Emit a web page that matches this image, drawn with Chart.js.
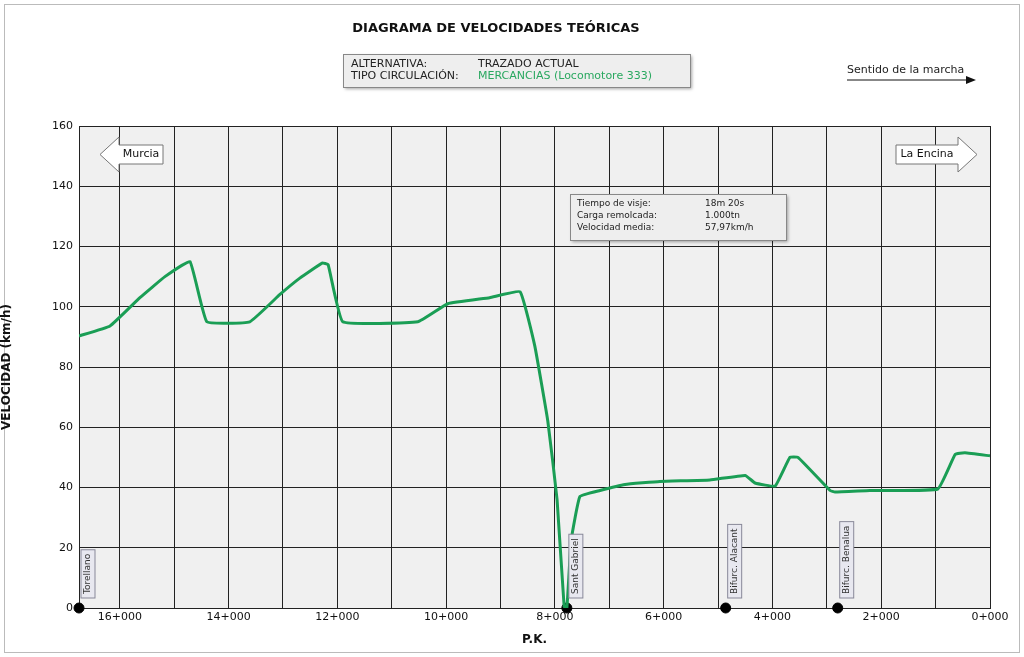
<!DOCTYPE html>
<html><head><meta charset="utf-8">
<script src="https://cdn.jsdelivr.net/npm/chart.js@4"></script>
<style>html,body{margin:0;padding:0;background:#fff}#w{width:1024px;height:657px;position:relative}</style>
</head><body><div id="w"><canvas id="c" width="1024" height="657"></canvas></div>
<script>
const pk=[16.75,16.18,15.63,15.17,14.71,14.4,13.61,13.06,12.69,12.28,12.17,11.9,10.52,9.97,9.2,8.64,8.37,8.13,7.96,7.83,7.78,7.7,7.54,7.17,6.71,6.07,5.15,4.5,4.32,3.95,3.68,3.53,2.94,2.85,2.21,0.96,0.64,0.46,0];
const speed=[90.3,93.6,103,110,115,95,95,104,109.5,114.5,114,95,95,101,103,105,87,62,36,0.5,0,22.5,37,39,41,42,42.5,44,41.5,40.5,50,50,39,38.5,39,39.5,51,51.5,50.5];
const stationNames=['Torellano','Sant Gabriel','Bifurc. Alacant','Bifurc. Benalua'];
const stationPk=[16.75,7.78,4.86,2.8];
const yTicks=[0,20,40,60,80,100,120,140,160];
const F='"DejaVu Sans", Verdana, sans-serif';
const deco={id:'deco',
beforeDraw(c){const x=c.ctx,a=c.chartArea;x.save();x.fillStyle='#fff';x.fillRect(0,0,1024,657);
x.strokeStyle='#bbb';x.lineWidth=1;x.strokeRect(4.5,4.5,1015,648);
x.fillStyle='#f0f0f0';x.fillRect(a.left,a.top,a.right-a.left,a.bottom-a.top);x.restore();},
afterDraw(c){const x=c.ctx,a=c.chartArea,xs=c.scales.x;x.save();
x.fillStyle='#111';x.font='bold 13px '+F;x.textAlign='center';x.textBaseline='middle';
x.fillText('DIAGRAMA DE VELOCIDADES TEÓRICAS',496,29);
function box(l,t,w,h){x.shadowColor='rgba(0,0,0,0.35)';x.shadowOffsetX=2;x.shadowOffsetY=2;x.shadowBlur=3;x.fillStyle='#eeeeee';x.fillRect(l,t,w,h);x.shadowColor='transparent';x.strokeStyle='#888';x.lineWidth=1;x.strokeRect(l+.5,t+.5,w,h);}
box(343,54,347,33);
x.textAlign='left';x.font='11px '+F;x.fillStyle='#222';
x.fillText('ALTERNATIVA:',351,64);x.fillText('TIPO CIRCULACIÓN:',351,76);
x.fillText('TRAZADO ACTUAL',478,64);x.fillStyle='#2aa860';x.fillText('MERCANCIAS (Locomotore 333)',478,76);
box(570,194,216,46);
x.fillStyle='#222';x.font='9px '+F;
[['Tiempo de visje:','18m 20s'],['Carga remolcada:','1.000tn'],['Velocidad media:','57,97km/h']].forEach((r,i)=>{x.fillText(r[0],577,204+i*12);x.fillText(r[1],705,204+i*12);});
x.font='11px '+F;x.fillText('Sentido de la marcha',847,70);
x.strokeStyle='#111';x.lineWidth=1;x.beginPath();x.moveTo(847,80);x.lineTo(968,80);x.stroke();
x.fillStyle='#111';x.beginPath();x.moveTo(976,80);x.lineTo(966,76);x.lineTo(966,84);x.fill();
function arrow(l,r,dir,txt){const t=137,b=172,m=(t+b)/2,h=19;x.beginPath();
if(dir<0){x.moveTo(l,m);x.lineTo(l+h,t);x.lineTo(l+h,t+8);x.lineTo(r,t+8);x.lineTo(r,b-8);x.lineTo(l+h,b-8);x.lineTo(l+h,b);}
else{x.moveTo(r,m);x.lineTo(r-h,t);x.lineTo(r-h,t+8);x.lineTo(l,t+8);x.lineTo(l,b-8);x.lineTo(r-h,b-8);x.lineTo(r-h,b);}
x.closePath();x.fillStyle='#fff';x.fill();x.strokeStyle='#777';x.stroke();
x.fillStyle='#111';x.textAlign='center';x.font='11px '+F;x.fillText(txt,dir<0?(l+h+r)/2:(l+r-h)/2,m);}
arrow(100,163,-1,'Murcia');arrow(896,977,1,'La Encina');
x.font='9px '+F;
stationNames.forEach((n,i)=>{const px=xs.getPixelForValue(stationPk[i])+9,w=x.measureText(n).width+8;
x.save();x.translate(px,a.bottom-10);x.rotate(-Math.PI/2);x.fillStyle='#e8e8f0';x.fillRect(0,-7,w,14);x.strokeStyle='#889';x.strokeRect(0,-7,w,14);
x.fillStyle='#333';x.textAlign='left';x.fillText(n,4,0);x.restore();});
x.restore();}};
new Chart(document.getElementById('c'),{type:'line',
data:{datasets:[
{data:pk.map((p,i)=>({x:p,y:speed[i]})),borderColor:'#1a9e55',borderWidth:3,pointRadius:0,tension:0.1,fill:false},
{data:stationPk.map(p=>({x:p,y:0})),showLine:false,pointRadius:5,pointBackgroundColor:'#000',pointBorderColor:'#000',clip:false}]},
options:{responsive:false,animation:false,devicePixelRatio:1,
layout:{padding:{top:126,right:34,bottom:6,left:0}},
plugins:{legend:{display:false},tooltip:{enabled:false}},
scales:{
x:{type:'linear',reverse:true,min:0,max:16.75,afterFit:s=>{s.height=43},
 afterBuildTicks:s=>{s.ticks=[];for(let i=0;i<=16;i++)s.ticks.push({value:i});},
 ticks:{color:'#111',font:{family:F,size:11},maxRotation:0,autoSkip:false,callback:v=>v%2===0?v+'+000':''},
 grid:{color:'#222',lineWidth:1,drawTicks:false},border:{color:'#222'},
 title:{display:true,text:'P.K.',font:{family:F,size:12,weight:'bold'},color:'#111',padding:{top:2}}},
y:{min:0,max:160,afterFit:s=>{s.width=79},afterBuildTicks:s=>{s.ticks=yTicks.map(v=>({value:v}))},
 ticks:{color:'#111',font:{family:F,size:11},padding:6},
 grid:{color:'#222',lineWidth:1,drawTicks:false},border:{color:'#222'},
 title:{display:true,text:'VELOCIDAD (km/h)',font:{family:F,size:12,weight:'bold'},color:'#111',padding:{top:0,bottom:0}}}}},
plugins:[deco]});
</script></body></html>
